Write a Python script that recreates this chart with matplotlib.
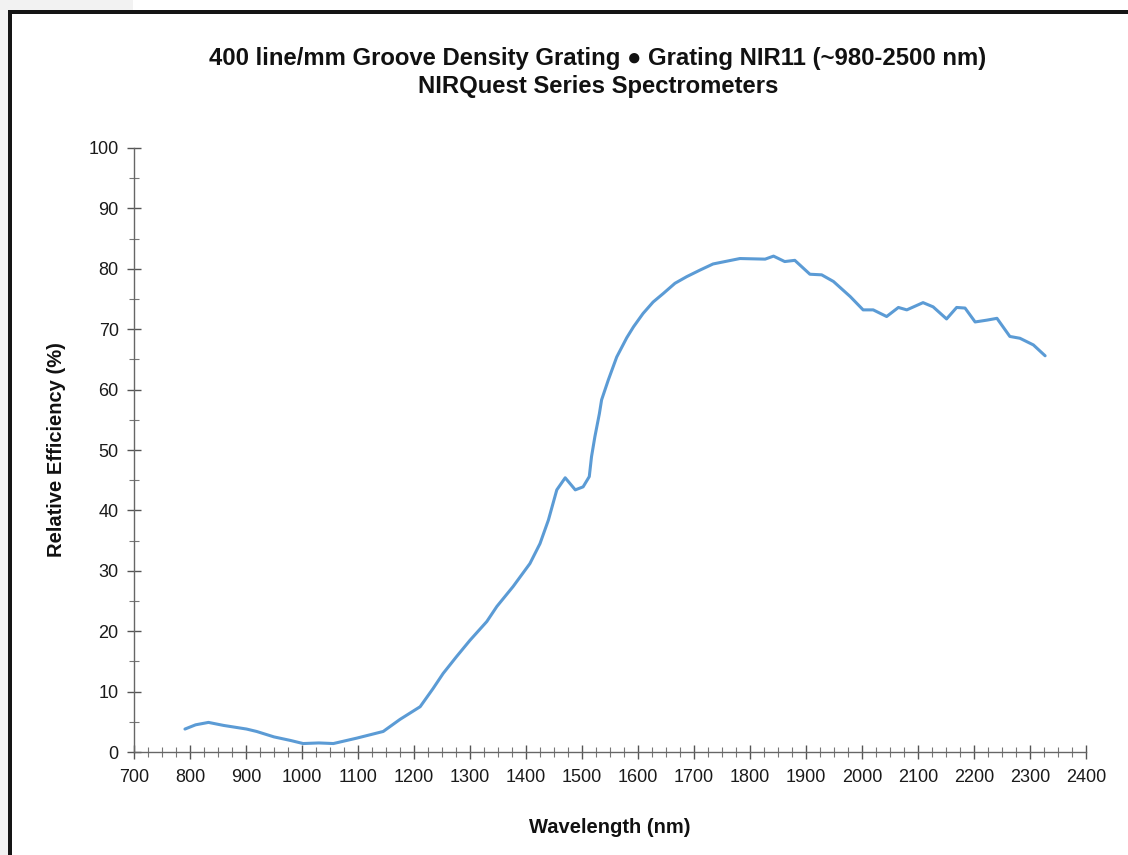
import matplotlib
matplotlib.use("Agg")
import matplotlib.pyplot as plt
from matplotlib.patches import Rectangle
from matplotlib.ticker import MultipleLocator

plt.rcParams['font.family'] = ['Liberation Sans', 'DejaVu Sans']

wavelength_nm = [791, 810, 833, 860, 901, 919, 950, 980, 1002, 1030, 1056, 1098, 1145,
                 1175, 1211, 1234, 1252, 1276, 1300, 1330, 1348, 1377, 1407, 1425,
                 1440, 1455, 1470, 1488, 1502, 1513, 1517, 1523, 1531, 1535, 1547,
                 1562, 1580, 1592, 1609, 1627, 1645, 1666, 1687, 1711, 1734, 1782,
                 1827, 1842, 1862, 1880, 1907, 1928, 1949, 1979, 2002, 2020, 2044,
                 2065, 2080, 2109, 2127, 2151, 2169, 2184, 2202, 2223, 2241, 2264,
                 2282, 2306, 2327]
efficiency_pct = [3.8, 4.5, 4.9, 4.4, 3.8, 3.4, 2.5, 1.9, 1.4, 1.5, 1.4, 2.3, 3.4,
                  5.4, 7.5, 10.5, 13.0, 15.8, 18.5, 21.6, 24.1, 27.4, 31.2, 34.5,
                  38.4, 43.4, 45.4, 43.4, 43.9, 45.6, 48.9, 52.2, 56.0, 58.3, 61.6,
                  65.4, 68.6, 70.4, 72.6, 74.5, 75.9, 77.6, 78.7, 79.8, 80.8, 81.7,
                  81.6, 82.1, 81.2, 81.4, 79.1, 79.0, 77.9, 75.4, 73.2, 73.2, 72.1,
                  73.6, 73.2, 74.4, 73.7, 71.7, 73.6, 73.5, 71.2, 71.5, 71.8, 68.8,
                  68.5, 67.4, 65.6]

title_lines = ["400 line/mm Groove Density Grating \u25cf Grating NIR11 (~980-2500 nm)",
               "NIRQuest Series Spectrometers"]
x_label = "Wavelength (nm)"
y_label = "Relative Efficiency (%)"

W, H = 1128, 855
fig = plt.figure(figsize=(W / 100, H / 100), dpi=100)
fig.patch.set_facecolor('white')

# page frame decorations
fig.patches.append(Rectangle((0, 1 - 10 / H), 133 / W, 10 / H, transform=fig.transFigure,
                             facecolor='#f2f2f2', edgecolor='none', zorder=0))
fig.patches.append(Rectangle((0, 0), 8 / W, 1 - 10 / H, transform=fig.transFigure,
                             facecolor='#f2f2f2', edgecolor='none', zorder=0))
fig.patches.append(Rectangle((8 / W, 1 - 14 / H), 1 - 8 / W, 4 / H, transform=fig.transFigure,
                             facecolor='#151515', edgecolor='none', zorder=1))
fig.patches.append(Rectangle((8 / W, 0), 4 / W, 1 - 10 / H, transform=fig.transFigure,
                             facecolor='#151515', edgecolor='none', zorder=1))

ax = fig.add_axes([134 / W, 103 / H, (1086 - 134) / W, 604 / H])
ax.plot(wavelength_nm, efficiency_pct, color='#5b9bd5', lw=2.2,
        solid_capstyle='round', solid_joinstyle='round')

ax.set_xlim(700, 2400)
ax.set_ylim(0, 100)
ax.xaxis.set_major_locator(MultipleLocator(100))
ax.xaxis.set_minor_locator(MultipleLocator(25))
ax.yaxis.set_major_locator(MultipleLocator(10))
ax.yaxis.set_minor_locator(MultipleLocator(5))

for s in ['top', 'right']:
    ax.spines[s].set_visible(False)
for s in ['left', 'bottom']:
    ax.spines[s].set_color('#666666')
    ax.spines[s].set_linewidth(1.0)

ax.tick_params(axis='both', which='major', direction='inout', length=10, width=1,
               color='#555555', labelsize=13, labelcolor='#1a1a1a')
ax.tick_params(axis='both', which='minor', direction='inout', length=7, width=0.8,
               color='#777777')
ax.tick_params(axis='x', which='major', pad=7)
ax.tick_params(axis='y', which='major', pad=6)

ax.set_xlabel(x_label, fontsize=14.5, fontweight='bold', labelpad=23, color='#111111')
ax.set_ylabel(y_label, fontsize=14.5, fontweight='bold', labelpad=16, color='#111111')

fig.text(598 / W, 1 - 58 / H, title_lines[0], ha='center', va='center', fontsize=17.2,
         fontweight='bold', color='#111111')
fig.text(598 / W, 1 - 86 / H, title_lines[1], ha='center', va='center', fontsize=17.2,
         fontweight='bold', color='#111111')

fig.savefig('out.png', dpi=100)
